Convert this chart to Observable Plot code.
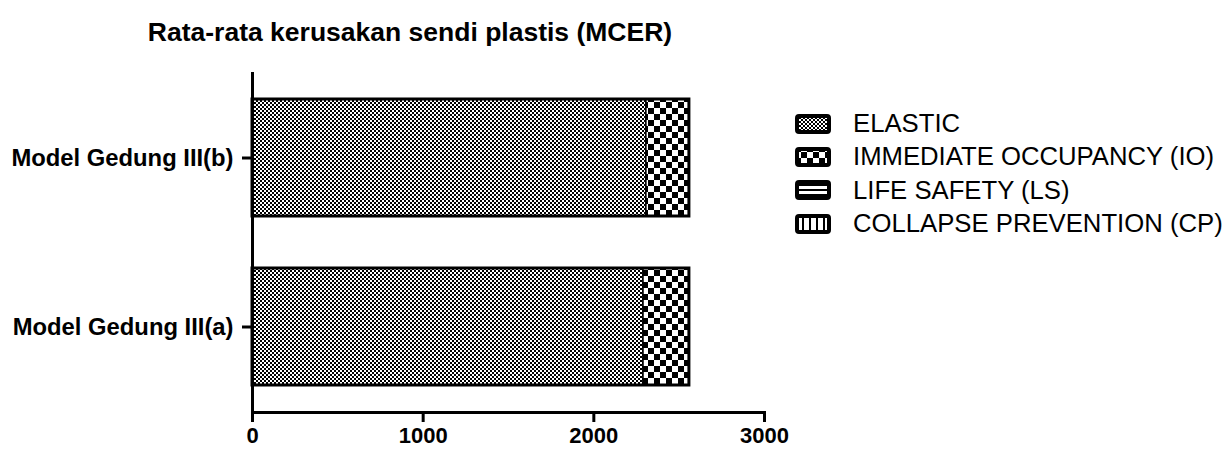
<!DOCTYPE html>
<html>
<head>
<meta charset="utf-8">
<script src="https://cdn.jsdelivr.net/npm/d3@7"></script>
<script src="https://cdn.jsdelivr.net/npm/@observablehq/plot@0.6"></script>
<style>
  body { margin: 0; background: #fff; font-family: "Liberation Sans", Arial, sans-serif; }
  #wrap { position: relative; width: 1225px; height: 450px; }
  #title { position: absolute; left: 0; width: 820px; top: 17px; line-height: 30px; text-align: center; font-weight: bold; font-size: 26.5px; color: #000; }
  #chart { position: absolute; left: 0; top: 60px; }
  #legend { position: absolute; left: 795px; top: 107px; }
  .item { display: flex; align-items: center; height: 33.3px; font-size: 25.7px; color: #000; white-space: nowrap; }
  .item svg { margin-right: 22px; }
</style>
</head>
<body>
<div id="wrap">
  <div id="title">Rata-rata kerusakan sendi plastis (MCER)</div>
  <div id="chart"></div>
  <div id="legend"></div>
</div>
<script>
const models = ["Model Gedung III(b)", "Model Gedung III(a)"];
const levels = ["ELASTIC", "IMMEDIATE OCCUPANCY (IO)", "LIFE SAFETY (LS)", "COLLAPSE PREVENTION (CP)"];
const elastic = [2308, 2291];
const io = [252, 269];
const ls = [0, 0];
const cp = [0, 0];
const xTicks = [0, 1000, 2000, 3000];
const patternIds = ["pE", "pIO", "pLS", "pCP"];

const series = [elastic, io, ls, cp];
const data = [];
models.forEach((m, i) => levels.forEach((l, j) => data.push({model: m, level: l, value: series[j][i]})));

const svg = Plot.plot({
  width: 800,
  height: 390,
  marginTop: 12,
  marginBottom: 38,
  marginLeft: 252,
  marginRight: 36,
  style: {fontFamily: "Liberation Sans, Arial, sans-serif", fontSize: "22px", fontWeight: "bold", color: "#000", overflow: "visible"},
  x: {domain: [0, 3000], ticks: xTicks, label: null},
  y: {domain: models, paddingInner: 0.31, paddingOuter: 0.157, label: null},
  color: {domain: levels, range: patternIds.map(id => `url(#${id})`)},
  marks: [
    Plot.barX(data, Plot.stackX({x: "value", y: "model", fill: "level", order: levels, filter: d => d.value > 0, stroke: "#000", strokeWidth: 1.5})),
    Plot.barX(data, Plot.groupY({x: "sum"}, {x: "value", y: "model", fill: "none", stroke: "#000", strokeWidth: 3})),
    Plot.ruleX([0], {stroke: "#000", strokeWidth: 3}),
    Plot.frame({anchor: "bottom", stroke: "#000", strokeWidth: 3}),
    Plot.axisX({ticks: xTicks, tickSize: 10, tickPadding: 5, strokeWidth: 3, tickFormat: d => String(d), fontWeight: "bold", fontSize: 22}),
    Plot.axisY({tickSize: 10, tickPadding: 9, strokeWidth: 3, fontWeight: "bold", fontSize: 23.8})
  ]
});

function addPatterns(sel, legend) {
  const defs = sel.append("defs");
  const pre = legend ? "L" : "";
  const p1 = defs.append("pattern").attr("id", pre + "pE").attr("patternUnits", "userSpaceOnUse").attr("width", 4).attr("height", 4);
  p1.append("rect").attr("width", 4).attr("height", 4).attr("fill", "#fff");
  p1.append("rect").attr("width", 2).attr("height", 2).attr("fill", "#000");
  p1.append("rect").attr("x", 2).attr("y", 2).attr("width", 2).attr("height", 2).attr("fill", "#000");
  const p2 = defs.append("pattern").attr("id", pre + "pIO").attr("patternUnits", "userSpaceOnUse").attr("width", 12).attr("height", 12);
  p2.append("rect").attr("width", 12).attr("height", 12).attr("fill", "#fff");
  p2.append("rect").attr("width", 6).attr("height", 6).attr("fill", "#000");
  p2.append("rect").attr("x", 6).attr("y", 6).attr("width", 6).attr("height", 6).attr("fill", "#000");
  const p3 = defs.append("pattern").attr("id", pre + "pLS").attr("patternUnits", "userSpaceOnUse").attr("width", 5).attr("height", 5);
  p3.append("rect").attr("width", 5).attr("height", 5).attr("fill", "#fff");
  p3.append("rect").attr("width", 5).attr("height", 2).attr("fill", "#000");
  const p4 = defs.append("pattern").attr("id", pre + "pCP").attr("patternUnits", "userSpaceOnUse").attr("width", 7).attr("height", 7);
  p4.append("rect").attr("width", 7).attr("height", 7).attr("fill", "#fff");
  p4.append("rect").attr("width", 2).attr("height", 7).attr("fill", "#000");
}
const sel = d3.select(svg);
addPatterns(sel, false);
sel.select("defs").lower();
document.getElementById("chart").appendChild(svg);

// legend
const leg = d3.select("#legend");
const lsvgDefs = d3.select("body").append("svg").attr("width", 0).attr("height", 0).style("position", "absolute");
addPatterns(lsvgDefs, true);
levels.forEach((l, j) => {
  const row = leg.append("div").attr("class", "item");
  const s = row.append("svg").attr("width", 36).attr("height", 22);
  s.append("rect").attr("x", 2).attr("y", 3).attr("width", 32).attr("height", 16).attr("rx", 2)
    .attr("fill", `url(#L${patternIds[j]})`).attr("stroke", "#000").attr("stroke-width", 4);
  row.append("span").text(l);
});
</script>
</body>
</html>
